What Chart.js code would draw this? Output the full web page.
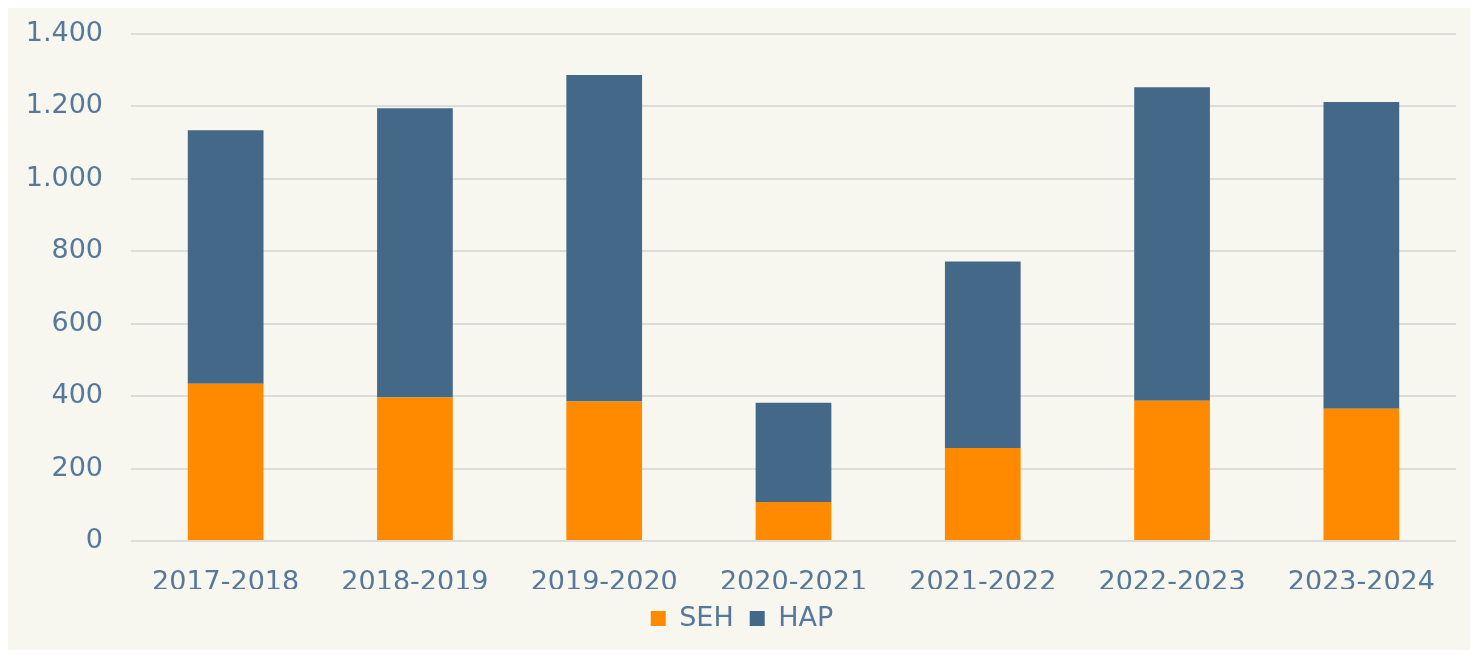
<!DOCTYPE html>
<html>
<head>
<meta charset="utf-8">
<script src="https://cdn.jsdelivr.net/npm/chart.js@4"></script>
<style>
  body { margin: 0; background: #ffffff; }
  #panel { position: absolute; left: 8px; top: 8px; width: 1462px; height: 642px; background: #f8f7ef; }
</style>
</head>
<body>
<div id="panel"><canvas id="chart1"></canvas></div>
<script>
const years = ['2017-2018', '2018-2019', '2019-2020', '2020-2021', '2021-2022', '2022-2023', '2023-2024'];
const sehValues = [434, 396, 385, 108, 257, 387, 365];
const hapValues = [700, 799, 902, 274, 515, 866, 847];
const yTicks = [0, 200, 400, 600, 800, 1000, 1200, 1400];

const textColor = '#56789a';
Chart.defaults.font.family = 'DejaVu Sans, Verdana, sans-serif';
Chart.defaults.color = textColor;

const ctx = document.getElementById('chart1');
new Chart(ctx, {
  type: 'bar',
  data: {
    labels: years,
    datasets: [
      { label: 'SEH', data: sehValues, backgroundColor: '#ff8a00', barPercentage: 0.4, categoryPercentage: 1 },
      { label: 'HAP', data: hapValues, backgroundColor: '#446887', barPercentage: 0.4, categoryPercentage: 1 }
    ]
  },
  options: {
    responsive: true,
    maintainAspectRatio: false,
    animation: false,
    layout: { padding: { left: 20, right: 14, top: 26, bottom: 8 } },
    plugins: {
      legend: {
        position: 'bottom',
        labels: { boxWidth: 15, boxHeight: 15, padding: 16, font: { size: 27 }, color: textColor }
      },
      tooltip: { enabled: false }
    },
    scales: {
      x: {
        stacked: true,
        grid: { display: false },
        border: { display: false },
        ticks: { font: { size: 27 }, padding: 18 },
        afterFit: scale => { scale.height = 48; }
      },
      y: {
        stacked: true,
        min: 0,
        max: 1400,
        afterBuildTicks: scale => { scale.ticks = yTicks.map(v => ({ value: v })); },
        afterFit: scale => { scale.width = 103; scale.paddingTop = 0; scale.paddingBottom = 0; },
        grid: { color: '#dcdcd8', lineWidth: 2, drawTicks: false },
        border: { display: false },
        ticks: {
          font: { size: 27 },
          padding: 28,
          callback: v => v.toLocaleString('de-DE')
        }
      }
    }
  }
});
</script>
</body>
</html>
